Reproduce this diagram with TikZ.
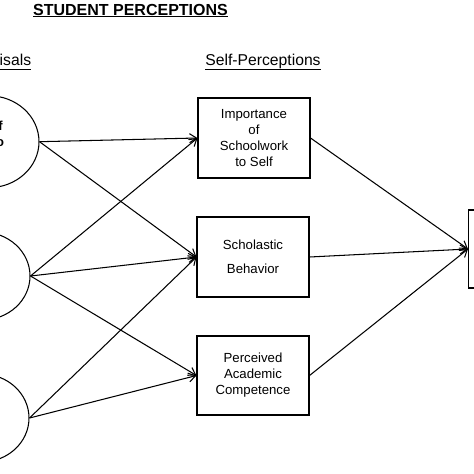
\documentclass[tikz,border=0pt]{standalone}
\usepackage{fontspec}
\setmainfont{Liberation Sans}
\usetikzlibrary{shapes.geometric,arrows.meta}
\begin{document}
\begin{tikzpicture}[x=1pt,y=-1pt, line width=1.05pt,
  box/.style={draw, minimum width=112pt, minimum height=80pt, inner sep=0pt, align=center, font=\fontsize{13.2}{16}\selectfont},
  oval/.style={draw, ellipse, inner sep=0pt},
  arr/.style={-{Straight Barb[length=7pt,width=9pt]}},
  head/.style={font=\fontsize{15.7}{18}\selectfont, anchor=base},
  frag/.style={font=\bfseries\fontsize{13}{16}\selectfont, anchor=base, inner sep=0pt}]
\useasboundingbox (0,0) rectangle (474,474);
\clip (0,0) rectangle (474,474);
% headings
\node[head, font=\bfseries\fontsize{16}{18}\selectfont] (title) at (130.5,15) {\underline{STUDENT PERCEPTIONS}};
\node[head] (hself) at (263,65) {\underline{Self-Perceptions}};
\node[head, anchor=base east] (happ) at (35,65) {\underline{Appraisals}};
% boxes
\node[box] (b1) at (254,138) {Importance\\of\\Schoolwork\\to Self};
\node[box] (b2) at (253,257) {Scholastic\\[8pt]Behavior};
\node[box, minimum height=79pt] (b3) at (253,375.5) {Perceived\\Academic\\Competence};
\node[draw, minimum width=100pt, minimum height=78pt, anchor=west] (out) at (468,249) {};
% ellipses
\node[oval, minimum width=101pt, minimum height=92pt] (e1) at (-11.5,141.7) {};
\node[oval, minimum width=96pt, minimum height=88pt] (e2) at (-18,276) {};
\node[oval, minimum width=95pt, minimum height=88pt] (e3) at (-18.5,418) {};
\node[frag] (t1) at (0.5,130) {f};
\node[frag] (t2) at (0,146.7) {o};
% arrows
\draw[arr] (e1.east) -- (b1.west);
\draw[arr] (e1.east) -- (b2.west);
\draw[arr] (e2.east) -- (b1.west);
\draw[arr] (e2.east) -- (b2.west);
\draw[arr] (e2.east) -- (b3.west);
\draw[arr] (e3.east) -- (b2.west);
\draw[arr] (e3.east) -- (b3.west);
\draw[arr] (b1.east) -- (out.west);
\draw[arr] (b2.east) -- (out.west);
\draw[arr] (b3.east) -- (out.west);
\end{tikzpicture}
\end{document}
